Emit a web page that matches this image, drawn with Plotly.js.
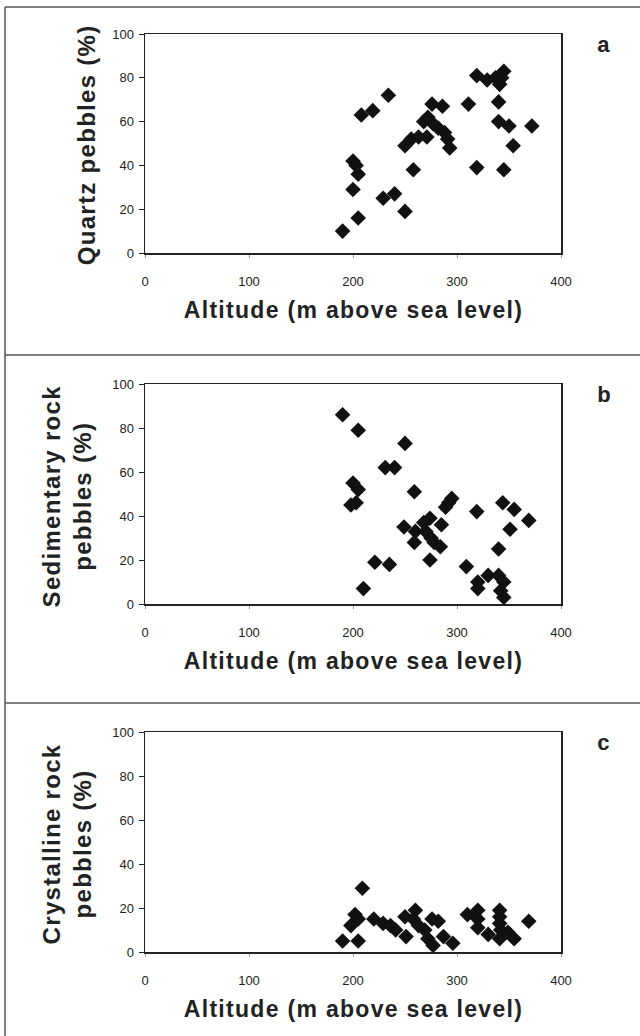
<!DOCTYPE html>
<html>
<head>
<meta charset="utf-8">
<script src="https://cdn.plot.ly/plotly-3.0.1.min.js"></script>
<style>
html,body{margin:0;padding:0;background:#fff;}
#chart{width:640px;height:1036px;}
#chart text.annotation-text{letter-spacing:1.3px;}
</style>
</head>
<body>
<div id="chart"></div>
<script>
// Panel a: quartz pebbles
const altA = [190,205,200,205,203,200,208,219,234,229,240,250,258,250,256,263,271,268,272,277,282,288,291,293,276,286,311,319,329,337,345,341,343,340,340,350,354,372,319,345];
const quartzPct = [10,16,29,36,40,42,63,65,72,25,27,19,38,49,52,53,53,60,62,59,57,55,52,48,68,67,68,81,79,80,83,77,80,69,60,58,49,58,39,38];
// Panel b: sedimentary rock pebbles
const altB = [190,205,250,231,240,200,205,203,198,210,221,235,259,249,260,259,268,274,270,275,278,284,285,274,289,295,292,319,309,320,320,330,340,344,355,351,369,340,345,342,345];
const sedPct = [86,79,73,62,62,55,52,46,45,7,19,18,51,35,33,28,37,39,33,30,28,26,36,20,44,48,46,42,17,10,7,13,25,46,43,34,38,13,10,6,3];
// Panel c: crystalline rock pebbles
const altC = [190,205,209,202,198,205,220,229,236,241,250,251,260,258,263,269,272,276,277,282,287,296,310,320,320,320,330,341,341,341,342,341,349,355,369];
const crystPct = [5,5,29,17,12,15,15,13,12,10,16,7,19,15,12,10,6,15,3,14,7,4,17,19,15,11,8,19,16,13,10,6,9,6,14];

const xTickVals = [0,100,200,300,400];
const yTickVals = [0,20,40,60,80,100];
const xTitle = 'Altitude (m above sea level)';
const yTitles = ['Quartz pebbles (%)', 'Sedimentary rock<br>pebbles (%)', 'Crystalline rock<br>pebbles (%)'];
const panelLetters = ['a','b','c'];

const W = 640, H = 1036;
const px = v => v / W;
const py = v => 1 - v / H;

// plot areas in pixels: [top, bottom]
const plots = [[34,253],[384,604],[732,952]];
const plotL = 145, plotR = 561;
const fam = 'Arial, "Liberation Sans", sans-serif';

const series = [[altA, quartzPct],[altB, sedPct],[altC, crystPct]];
const traces = series.map((s,i) => ({
  type:'scatter', mode:'markers',
  x: s[0], y: s[1],
  xaxis: i===0 ? 'x' : 'x'+(i+1),
  yaxis: i===0 ? 'y' : 'y'+(i+1),
  marker:{symbol:'diamond', size:12, color:'#111', line:{width:0}},
  showlegend:false, hoverinfo:'skip'
}));

const layout = {
  width: W, height: H,
  margin:{l:0,r:0,t:0,b:0},
  paper_bgcolor:'#fff', plot_bgcolor:'#fff',
  font:{family:fam, color:'#222'},
  annotations: [], shapes: []
};

plots.forEach((p,i) => {
  const xa = i===0 ? 'xaxis' : 'xaxis'+(i+1);
  const ya = i===0 ? 'yaxis' : 'yaxis'+(i+1);
  layout[xa] = {
    domain:[px(plotL), px(plotR)], range:[0,400], tickvals:xTickVals,
    anchor: i===0 ? 'y' : 'y'+(i+1),
    showgrid:false, zeroline:false, showline:true, mirror:true,
    linecolor:'#222', linewidth:1.5, ticks:'outside', ticklen:3, tickcolor:'#999',
    ticklabelstandoff:13, tickfont:{size:13, color:'#222'}
  };
  layout[ya] = {
    domain:[py(p[1]), py(p[0])], range:[0,100], tickvals:yTickVals,
    anchor: i===0 ? 'x' : 'x'+(i+1),
    showgrid:false, zeroline:false, showline:true, mirror:true,
    linecolor:'#222', linewidth:1.5, ticks:'outside', ticklen:5, tickcolor:'#222',
    ticklabelstandoff:2, tickfont:{size:13, color:'#222'}
  };
  layout.annotations.push({
    xref:'paper', yref:'paper', x:px((plotL+plotR)/2), y:py(p[1]+57),
    text:xTitle, showarrow:false, xanchor:'center', yanchor:'middle',
    font:{size:23, color:'#222', family:fam, weight:'bold'}
  });
  layout.annotations.push({
    xref:'paper', yref:'paper', x:px(i===0 ? 86 : 67), y:py((p[0]+p[1])/2 + 2),
    text:yTitles[i], showarrow:false, textangle:-90, xanchor:'center', yanchor:'middle',
    font:{size:24, color:'#222', family:fam, weight:'bold'}
  });
  layout.annotations.push({
    xref:'paper', yref:'paper', x:px(604), y:py(p[0]+10),
    text:panelLetters[i], showarrow:false, xanchor:'center', yanchor:'middle',
    font:{size:22, color:'#222', family:fam, weight:'bold'}
  });
});

// outer frame and dividers
const frameLine = {color:'#555', width:1.5};
layout.shapes.push({type:'line', xref:'paper', yref:'paper', x0:px(5), x1:px(5), y0:py(7), y1:0, line:frameLine});
layout.shapes.push({type:'line', xref:'paper', yref:'paper', x0:px(5), x1:1, y0:py(7), y1:py(7), line:frameLine});
layout.shapes.push({type:'line', xref:'paper', yref:'paper', x0:px(5), x1:1, y0:py(355), y1:py(355), line:frameLine});
layout.shapes.push({type:'line', xref:'paper', yref:'paper', x0:px(5), x1:1, y0:py(703), y1:py(703), line:frameLine});

Plotly.newPlot('chart', traces, layout, {staticPlot:true, displayModeBar:false});
</script>
</body>
</html>
